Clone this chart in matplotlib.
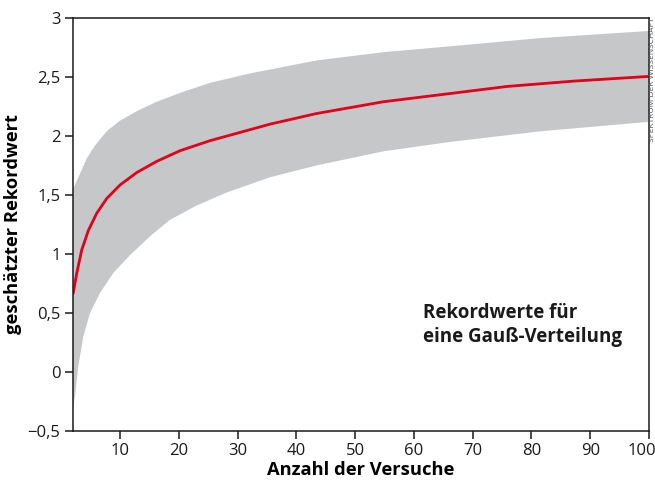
import numpy as np
import matplotlib
matplotlib.use('Agg')
from matplotlib import pyplot as plt
from matplotlib import transforms

# red curve: estimated record value
n_mean = [2, 2.63, 3.48, 4.61, 6.03, 7.73, 10, 12.84, 16.24, 20.2, 25.3, 30.4, 35.5, 43.4, 54.8, 66.2, 75.9, 87.2, 100]
rec_mean = [0.66, 0.836, 1.034, 1.20, 1.345, 1.47, 1.585, 1.69, 1.785, 1.875, 1.96, 2.03, 2.10, 2.19, 2.29, 2.36, 2.42, 2.465, 2.505]

# grey band, upper edge
n_up = [2, 3.19, 4.33, 5.74, 7.73, 10, 12.84, 16.24, 20.2, 25.3, 32.1, 43.4, 54.8, 66.2, 81.6, 100]
rec_up = [1.55, 1.68, 1.81, 1.92, 2.04, 2.13, 2.21, 2.29, 2.365, 2.45, 2.53, 2.64, 2.71, 2.76, 2.83, 2.89]

# grey band, lower edge
n_lo = [2, 2.34, 2.9, 3.75, 4.89, 6.59, 8.86, 11.7, 15.1, 18.5, 23.0, 28.1, 35.5, 43.4, 54.8, 66.2, 81.6, 100]
rec_lo = [-0.30, -0.20, 0.05, 0.30, 0.50, 0.67, 0.84, 0.99, 1.15, 1.29, 1.41, 1.52, 1.65, 1.75, 1.87, 1.95, 2.04, 2.12]

xticks = [10, 20, 30, 40, 50, 60, 70, 80, 90, 100]
yticks = [-0.5, 0, 0.5, 1, 1.5, 2, 2.5, 3]
ylabels = ['\u22120,5', '0', '0,5', '1', '1,5', '2', '2,5', '3']

plt.rcParams['font.family'] = ['Open Sans', 'DejaVu Sans']

fig = plt.figure(figsize=(6.55, 4.86), dpi=100)
ax = fig.add_axes([0.1115, 0.1132, 0.8793, 0.8498])

poly_x = np.concatenate([n_up, n_lo[::-1]])
poly_y = np.concatenate([rec_up, rec_lo[::-1]])
ax.fill(poly_x, poly_y, color='#c6c7c9', lw=0, zorder=1)
ax.plot(n_mean, rec_mean, color='#e2001a', lw=2.0, zorder=2, solid_capstyle='butt')

ax.set_xlim(2, 100)
ax.set_ylim(-0.5, 3)
ax.set_xticks(xticks)
ax.set_xticklabels([str(t) for t in xticks])
ax.set_yticks(yticks)
ax.set_yticklabels(ylabels)
ax.tick_params(direction='out', length=6, width=1.1, labelsize=12, colors='#1a1a1a', pad=3)

# last x label sits a bit left so it stays inside the picture
lab = ax.get_xticklabels()[-1]
lab.set_transform(lab.get_transform() + transforms.ScaledTranslation(-7 / 100, 0, fig.dpi_scale_trans))

for s in ax.spines.values():
    s.set_linewidth(1.1)
    s.set_color('#1a1a1a')

ax.set_xlabel('Anzahl der Versuche', fontsize=13.2, fontweight='bold', labelpad=1)
ax.set_ylabel('geschätzter Rekordwert', fontsize=13.2, fontweight='bold', labelpad=4)

ax.text(61.6, 0.40, 'Rekordwerte für\neine Gauß-Verteilung', fontsize=13.5,
        fontweight='bold', ha='left', va='center', linespacing=1.25, color='#1a1a1a')

fig.text(0.9955, 0.963, 'SPEKTRUM DER WISSENSCHAFT', rotation=90, fontsize=6,
         color='#555555', ha='center', va='top')

fig.savefig('out.png', dpi=100)
